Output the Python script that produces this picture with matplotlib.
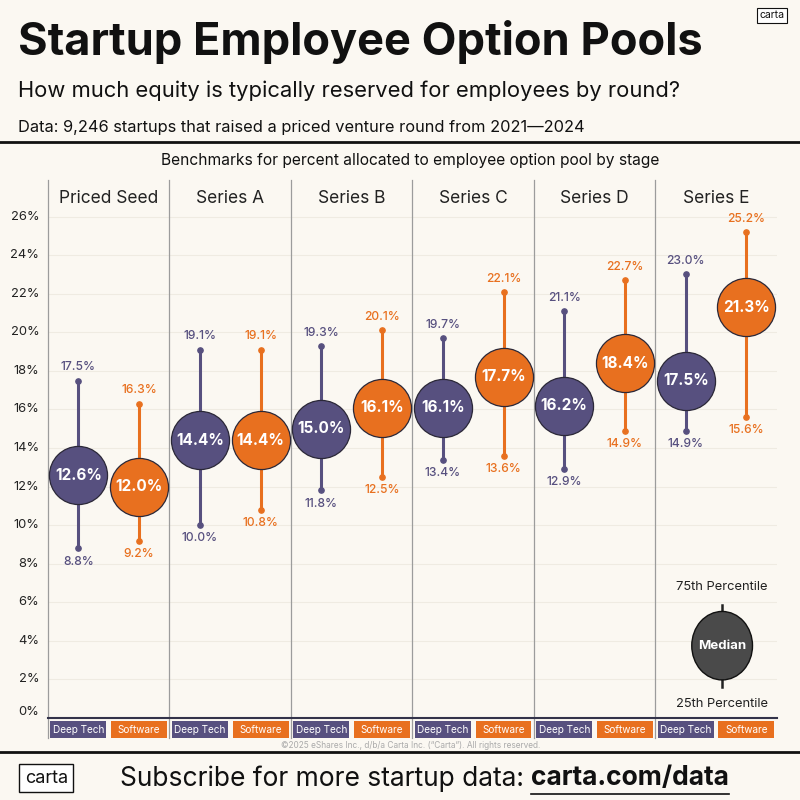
import matplotlib.pyplot as plt
from matplotlib.patches import Rectangle, Ellipse
from matplotlib.lines import Line2D
import matplotlib.transforms as mtransforms

plt.rcParams['font.family'] = ['Inter', 'DejaVu Sans']

# donnees (en %)
stages = ['Priced Seed', 'Series A', 'Series B', 'Series C', 'Series D', 'Series E']
deep_p25 = [8.8, 10.0, 11.8, 13.4, 12.9, 14.9]
deep_med = [12.6, 14.4, 15.0, 16.1, 16.2, 17.5]
deep_p75 = [17.5, 19.1, 19.3, 19.7, 21.1, 23.0]
soft_p25 = [9.2, 10.8, 12.5, 13.6, 14.9, 15.6]
soft_med = [12.0, 14.4, 16.1, 17.7, 18.4, 21.3]
soft_p75 = [16.3, 19.1, 20.1, 22.1, 22.7, 25.2]
yticks = [0, 2, 4, 6, 8, 10, 12, 14, 16, 18, 20, 22, 24, 26]

BG = '#fbf8f2'
PURPLE = '#57507f'
ORANGE = '#e8701f'
DARK = '#222222'

fig = plt.figure(figsize=(8, 8), dpi=100, facecolor=BG)

# en-tete
fig.text(0.022, 0.947, 'Startup Employee Option Pools', fontsize=32.5, fontweight='bold',
         color='#111111', va='center')
fig.text(0.022, 0.887, 'How much equity is typically reserved for employees by round?',
         fontsize=15.8, color='#111111', va='center')
fig.text(0.022, 0.841, 'Data: 9,246 startups that raised a priced venture round from 2021\u20142024',
         fontsize=11.8, color='#111111', va='center')
fig.add_artist(Line2D([0, 1], [0.822, 0.822], color='#111111', lw=2))
fig.text(0.513, 0.799, 'Benchmarks for percent allocated to employee option pool by stage',
         fontsize=11.2, color='#111111', ha='center', va='center')
fig.text(0.965, 0.981, 'carta', fontsize=7.5, color='#111111', ha='center', va='center',
         bbox=dict(boxstyle='square,pad=0.25', fc='white', ec='#111111', lw=0.8))

ax = fig.add_axes([0.06, 0.1025, 0.911, 0.6725])
ax.set_facecolor(BG)
ax.set_xlim(0, 6)
ax.set_ylim(0, 27.9)
for s in ['top', 'right', 'left']:
    ax.spines[s].set_visible(False)
ax.spines['bottom'].set_color('#33334a')
ax.spines['bottom'].set_linewidth(1.5)
ax.set_xticks([])
ax.set_yticks([])

# grille horizontale + etiquettes y
trans = mtransforms.blended_transform_factory(ax.transAxes, ax.transData)
for t in yticks:
    if t > 0:
        ax.axhline(t, color='#efebe2', lw=0.8, zorder=0)
    ax.text(-0.012, t, f'{t}%', transform=trans, ha='right',
            va='bottom' if t == 0 else 'center', fontsize=9.3, color=DARK)

# separateurs et titres des etapes
for i, name in enumerate(stages):
    ax.plot([i, i], [-1.05, 27.9], color='#9c9c9c', lw=0.9, clip_on=False, zorder=1)
    ax.text(i + 0.5, 26.95, name, ha='center', va='center', fontsize=12.5, color=DARK)

# boites de categories en bas
for i in range(len(stages)):
    for off, lab, col in [(0.02, 'Deep Tech', PURPLE), (0.52, 'Software', ORANGE)]:
        ax.add_patch(Rectangle((i + off, -1.05), 0.46, 0.88, facecolor=col,
                               edgecolor='none', clip_on=False))
        ax.text(i + off + 0.23, -0.61, lab, ha='center', va='center', fontsize=7.2,
                color='white', clip_on=False)


def draw_series(xs, p25, med, p75, col):
    for x, lo, m, hi in zip(xs, p25, med, p75):
        ax.plot([x, x], [lo, hi], color=col, lw=2.2, zorder=2, solid_capstyle='butt')
        ax.plot([x, x], [lo, hi], 'o', color=col, ms=3.8, zorder=2)
        ax.scatter([x], [m], s=1750, color=col, edgecolor='#2b2838', lw=0.9, zorder=3)
        ax.text(x, m, f'{m:.1f}%', ha='center', va='center', fontsize=11,
                fontweight='bold', color='white', zorder=4)
        ax.annotate(f'{hi:.1f}%', (x, hi), xytext=(0, 9.5), textcoords='offset points',
                    ha='center', va='center', fontsize=8.7, fontweight='medium', color=col)
        ax.annotate(f'{lo:.1f}%', (x, lo), xytext=(0, -9.5), textcoords='offset points',
                    ha='center', va='center', fontsize=8.7, fontweight='medium', color=col)


draw_series([i + 0.25 for i in range(6)], deep_p25, deep_med, deep_p75, PURPLE)
draw_series([i + 0.75 for i in range(6)], soft_p25, soft_med, soft_p75, ORANGE)

# legende
lx = 5.55
ax.plot([lx, lx], [1.6, 5.85], color='#222222', lw=1.8, zorder=2)
ax.add_patch(Ellipse((lx, 3.75), 0.5, 3.55, facecolor='#4a4a4a', edgecolor='#111111',
                     lw=1, zorder=3))
ax.text(lx, 3.75, 'Median', ha='center', va='center', fontsize=9.5, fontweight='bold',
        color='white', zorder=4)
ax.text(lx, 6.8, '75th Percentile', ha='center', va='center', fontsize=9.3, color=DARK)
ax.text(lx, 0.75, '25th Percentile', ha='center', va='center', fontsize=9.3, color=DARK)

# pied de page
fig.text(0.513, 0.068, '\u00a92025 eShares Inc., d/b/a Carta Inc. (\u201cCarta\u201d). All rights reserved.',
         fontsize=6, color='#aaaaaa', ha='center', va='center')
fig.add_artist(Line2D([0, 1], [0.06, 0.06], color='#111111', lw=2))
fig.text(0.058, 0.027, 'carta', fontsize=13, color='#111111', ha='center', va='center',
         bbox=dict(boxstyle='square,pad=0.3', fc='white', ec='#111111', lw=1))
t1 = fig.text(0.15, 0.027, 'Subscribe for more startup data: ', fontsize=19,
              color='#111111', va='center')
fig.canvas.draw()
bb = t1.get_window_extent()
x2 = bb.x1 / fig.bbox.width
t2 = fig.text(x2, 0.027, 'carta.com/data', fontsize=19, fontweight='bold',
              color='#111111', va='center')
bb2 = t2.get_window_extent()
fig.add_artist(Line2D([bb2.x0 / 800, bb2.x1 / 800], [0.007, 0.007], color='#111111', lw=1.2))

fig.savefig('out.png', dpi=100, facecolor=BG)
